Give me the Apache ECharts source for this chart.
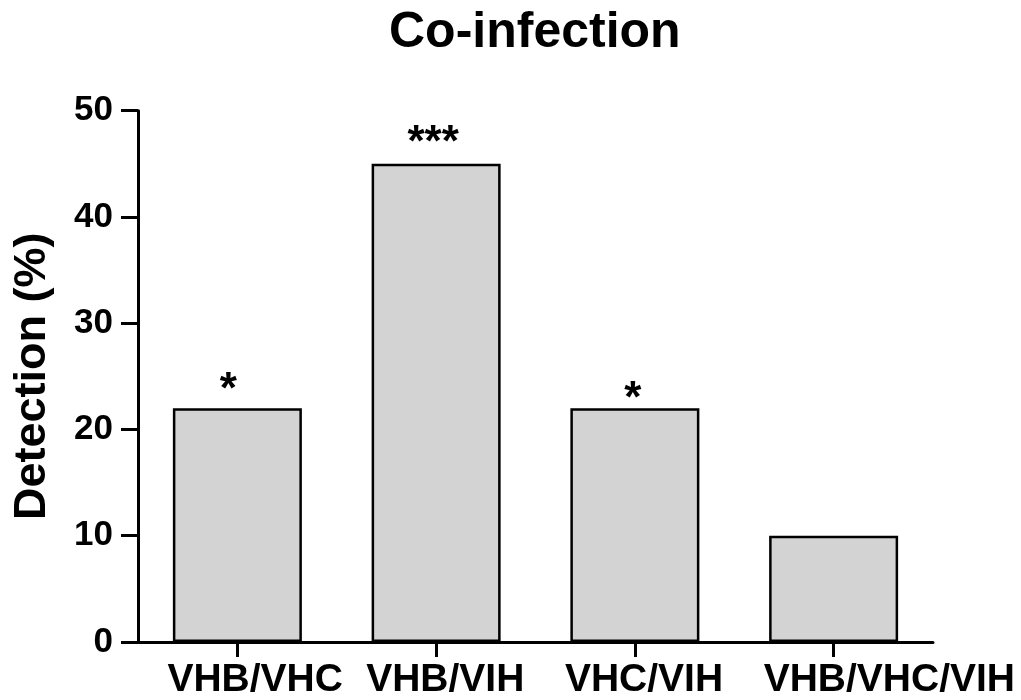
<!DOCTYPE html>
<html>
<head>
<meta charset="utf-8">
<script src="https://cdn.jsdelivr.net/npm/echarts@6/dist/echarts.min.js"></script>
<style>html,body{margin:0;padding:0;background:#fff;}#chart{width:1021px;height:700px;}</style>
</head>
<body>
<div id="chart"></div>
<script>
const categories = ['VHB/VHC', 'VHB/VIH', 'VHC/VIH', 'VHB/VHC/VIH'];
const detection = [22, 45, 22, 10];
const significance = ['*', '***', '*', ''];
const yTicks = [0, 10, 20, 30, 40, 50];

const FONT = "Arial, 'Liberation Sans', sans-serif";
const labelOffsets = [[-9, 5], [-3, 2], [-2, 14], [0, 0]];

const chart = echarts.init(document.getElementById('chart'));
chart.setOption({
  animation: false,
  backgroundColor: '#ffffff',
  title: {
    text: 'Co-infection',
    left: 384,
    top: 3,
    textStyle: { fontFamily: FONT, fontWeight: 'bold', fontSize: 50, color: '#000' }
  },
  grid: { left: 138, right: 88, top: 110.7, bottom: 58, containLabel: false },
  xAxis: {
    type: 'category',
    data: categories,
    axisLine: { lineStyle: { color: '#000', width: 3 } },
    axisTick: { show: true, alignWithLabel: true, length: 15, lineStyle: { color: '#000', width: 3 } },
    axisLabel: {
      interval: 0,
      margin: 19,
      align: 'center',
      formatter: '{a|{value}}',
      rich: {
        a: { width: 140, align: 'left', fontFamily: FONT, fontWeight: 'bold', fontSize: 39, color: '#000' }
      }
    }
  },
  yAxis: {
    type: 'value',
    min: yTicks[0],
    max: yTicks[yTicks.length - 1],
    interval: 10,
    name: 'Detection (%)',
    nameLocation: 'middle',
    nameGap: 83,
    nameRotate: 90,
    nameTextStyle: { fontFamily: FONT, fontWeight: 'bold', fontSize: 45, color: '#000' },
    axisLine: { show: true, lineStyle: { color: '#000', width: 3 } },
    axisTick: { show: true, length: 17, lineStyle: { color: '#000', width: 3 } },
    axisLabel: { fontFamily: FONT, fontWeight: 'bold', fontSize: 35, color: '#000', margin: 25 },
    splitLine: { show: false }
  },
  series: [{
    type: 'bar',
    data: detection.map((v, i) => ({
      value: v,
      label: { formatter: significance[i], offset: labelOffsets[i] }
    })),
    barWidth: 129,
    itemStyle: { color: '#d3d3d3', borderColor: '#000', borderWidth: 2.5 },
    label: {
      show: true,
      position: 'top',
      distance: 0,
      fontFamily: FONT,
      fontWeight: 'bold',
      fontSize: 44,
      color: '#000'
    }
  }]
});
</script>
</body>
</html>
